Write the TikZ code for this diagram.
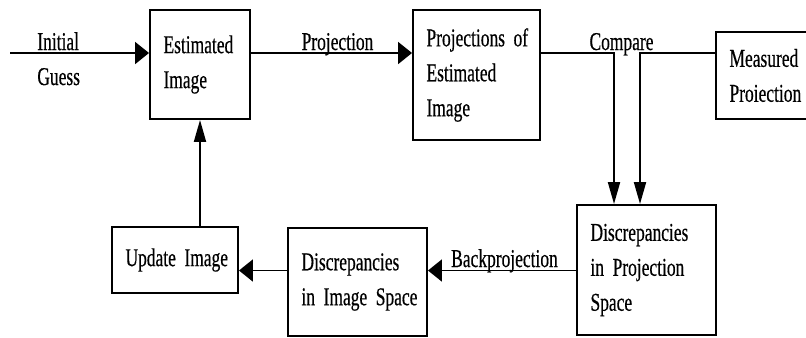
\documentclass[tikz,border=0pt]{standalone}
\usepackage{fontspec}
\newfontfamily\figfont[FakeStretch=0.68,FakeBold=0.4]{Liberation Serif}
\usetikzlibrary{arrows.meta}
\newcommand{\blockfont}{\figfont\fontsize{14.6pt}{19.9pt}\selectfont\spaceskip=2.6pt\relax}
\tikzstyle{block} = [rectangle, draw=black, line width=1.1pt, inner xsep=0.27cm, align=left, font=\blockfont]
\tikzstyle{tag} = [inner sep=0pt, align=left, font=\blockfont]
\tikzstyle{harrow} = [line width=1.1pt, -{Triangle[length=0.28cm,width=0.44cm]}]
\tikzstyle{varrow} = [line width=1.1pt, -{Triangle[length=0.44cm,width=0.24cm]}]

\begin{document}
\begin{tikzpicture}
    \clip (0,0) rectangle (16.12,-6.74);
    \node (est) [block, text width=1.46cm, minimum height=2.18cm] at (4.0,-1.29) {Estimated\\Image};
    \node (proj) [block, text width=2.0cm, minimum height=2.6cm] at (9.53,-1.5) {\mbox{Projections of}\\Estimated\\Image};
    \node (meas) [block, text width=1.74cm, minimum height=1.74cm] at (15.46,-1.51) {Measured\\Proiection};
    \node (disp) [block, text width=2.24cm, minimum height=2.6cm] at (12.93,-5.4) {Discrepancies\\\mbox{in Projection}\\Space};
    \node (disi) [block, text width=2.24cm, minimum height=2.16cm] at (7.15,-5.64) {Discrepancies\\\mbox{in Image Space}};
    \node (upd) [block, text width=1.98cm, minimum height=1.32cm] at (3.5,-5.2) {\mbox{Update Image}};

    % labels on the connectors
    \node (lguess) [tag, anchor=base west] at (0.74,-1.7) {Initial\\Guess};
    \node (lproj) [tag, anchor=base] at (6.75,-1.0) {Projection};
    \node (lcmp) [tag, anchor=base] at (12.43,-1.0) {Compare};
    \node (lback) [tag, anchor=base] at (10.09,-5.34) {Backprojection};

    \coordinate (guess) at (0.2,-1.06);
    \coordinate (cmp_a) at (12.28,-1.06);
    \coordinate (cmp_b) at (12.8,-1.06);
    \coordinate (back) at (12.0,-5.41);

    \draw [harrow] (guess) -- (guess -| est.west);
    \draw [harrow] (guess -| est.east) -- (guess -| proj.west);
    \draw [varrow] (guess -| proj.east) -- (cmp_a) -- (cmp_a |- disp.north);
    \draw [varrow] (guess -| meas.west) -- (cmp_b) -- (cmp_b |- disp.north);
    \draw [harrow] (back -| disp.west) -- (back -| disi.east);
    \draw [harrow] (back -| disi.west) -- (back -| upd.east);
    \draw [varrow] (upd.north -| est.south) -- (est.south);
\end{tikzpicture}
\end{document}
